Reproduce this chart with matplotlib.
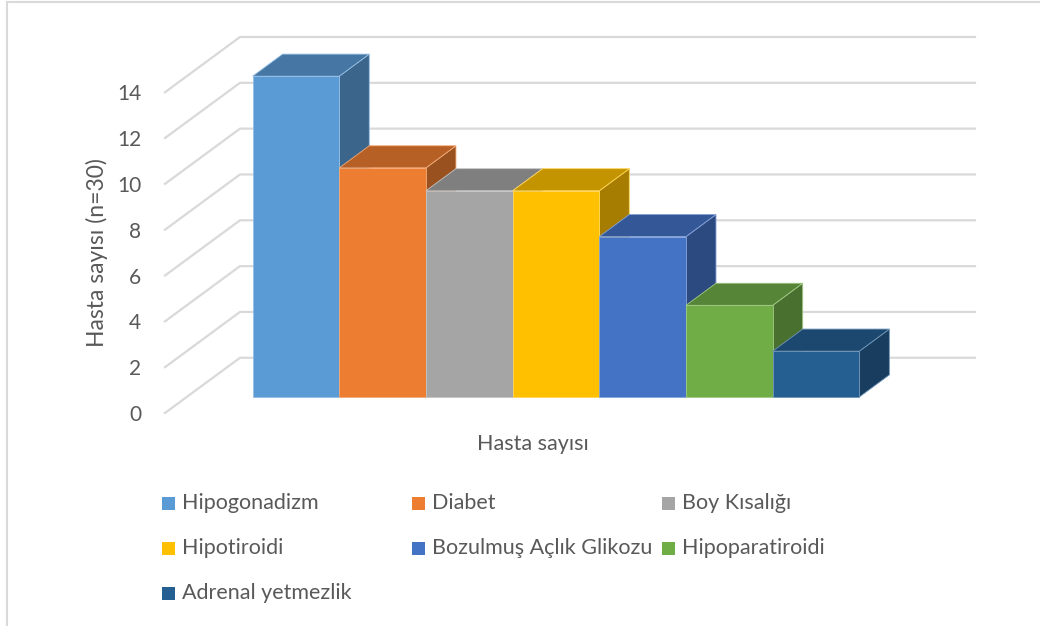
import numpy as np
import matplotlib.pyplot as plt
from matplotlib.patches import Polygon, Rectangle

plt.rcParams['font.family'] = ['Lato', 'DejaVu Sans']

labels = ["Hipogonadizm", "Diabet", "Boy Kısalığı", "Hipotiroidi",
          "Bozulmuş Açlık Glikozu", "Hipoparatiroidi", "Adrenal yetmezlik"]
values = [14, 10, 9, 9, 7, 4, 2]
colors = ["#5B9BD5", "#ED7D31", "#A5A5A5", "#FFC000", "#4472C4", "#70AD47", "#255E91"]
yticks = [0, 2, 4, 6, 8, 10, 12, 14]
category = "Hasta sayısı"
ylabel = "Hasta sayısı (n=30)"

W, H = 1040, 626
fig = plt.figure(figsize=(W / 100, H / 100), dpi=100)

# fake 3d: depth of the floor in data units, bars sit between f0 and f1 of it
depth_x = 0.865
depth_y = 2.41
f0, f1 = 0.29, 0.69
x_left = -0.76
x_right = len(values) + 0.72 + depth_x
y_top = max(yticks) + depth_y

ax = fig.add_axes([165 / W, 1 - 413 / H, 810 / W, 376 / H])
ax.set_xlim(x_left, x_right)
ax.set_ylim(0, y_top)

grid_c = "#d9d9d9"
for v in yticks:
    ax.plot([x_left, x_left + depth_x, x_right], [v, v + depth_y, v + depth_y],
            color=grid_c, lw=1.6, zorder=0, clip_on=False)


def shade(c, k):
    r, g, b = [int(c[i:i + 2], 16) / 255 for i in (1, 3, 5)]
    return (r * k, g * k, b * k)


def tint(c, k):
    r, g, b = [int(c[i:i + 2], 16) / 255 for i in (1, 3, 5)]
    return (r + (1 - r) * k, g + (1 - g) * k, b + (1 - b) * k)


ddx = (f1 - f0) * depth_x
ddy = (f1 - f0) * depth_y
for i, (v, c) in enumerate(zip(values, colors)):
    x0 = i + f0 * depth_x
    y0 = f0 * depth_y
    ec = tint(c, 0.35)
    front = Rectangle((x0, y0), 1, v, facecolor=c, edgecolor=ec, lw=0.6, zorder=3)
    top = Polygon([(x0, y0 + v), (x0 + 1, y0 + v), (x0 + 1 + ddx, y0 + v + ddy),
                   (x0 + ddx, y0 + v + ddy)], closed=True,
                  facecolor=shade(c, 0.77), edgecolor=ec, lw=0.6, zorder=3)
    side = Polygon([(x0 + 1, y0), (x0 + 1 + ddx, y0 + ddy), (x0 + 1 + ddx, y0 + v + ddy),
                    (x0 + 1, y0 + v)], closed=True,
                   facecolor=shade(c, 0.65), edgecolor=ec, lw=0.6, zorder=3)
    ax.add_patch(side)
    ax.add_patch(top)
    ax.add_patch(front)

ax.set_yticks(yticks)
ax.set_yticklabels([str(t) for t in yticks])
ax.set_xticks([])
ax.tick_params(axis='y', length=0, pad=17, labelsize=15, labelcolor="#595959")
for s in ax.spines.values():
    s.set_visible(False)
ax.patch.set_alpha(0)

fig.text(97 / W, 1 - 253 / H, ylabel, rotation=90, ha='center', va='center',
         fontsize=16.5, color="#595959")
fig.text(533 / W, 1 - 444 / H, category, ha='center', va='center',
         fontsize=15.5, color="#595959")

# legend, three columns like excel lays it out
col_x = [162, 412, 662]
row_y = [503, 548, 593]
for i, (lab, c) in enumerate(zip(labels, colors)):
    mx = col_x[i % 3]
    my = row_y[i // 3]
    fig.patches.append(Rectangle((mx / W, 1 - (my + 6.5) / H), 13 / W, 13 / H,
                                 transform=fig.transFigure, facecolor=c, edgecolor='none'))
    fig.text((mx + 20) / W, 1 - my / H, lab, ha='left', va='center',
             fontsize=15.5, color="#595959")

# chart area border (left and top only visible)
fig.add_artist(plt.Line2D([7 / W, 7 / W], [0, 1 - 1.5 / H], color=grid_c, lw=1.5,
                          transform=fig.transFigure))
fig.add_artist(plt.Line2D([7 / W, 1], [1 - 1.5 / H, 1 - 1.5 / H], color=grid_c, lw=1.5,
                          transform=fig.transFigure))

fig.savefig("out.png", dpi=100)
